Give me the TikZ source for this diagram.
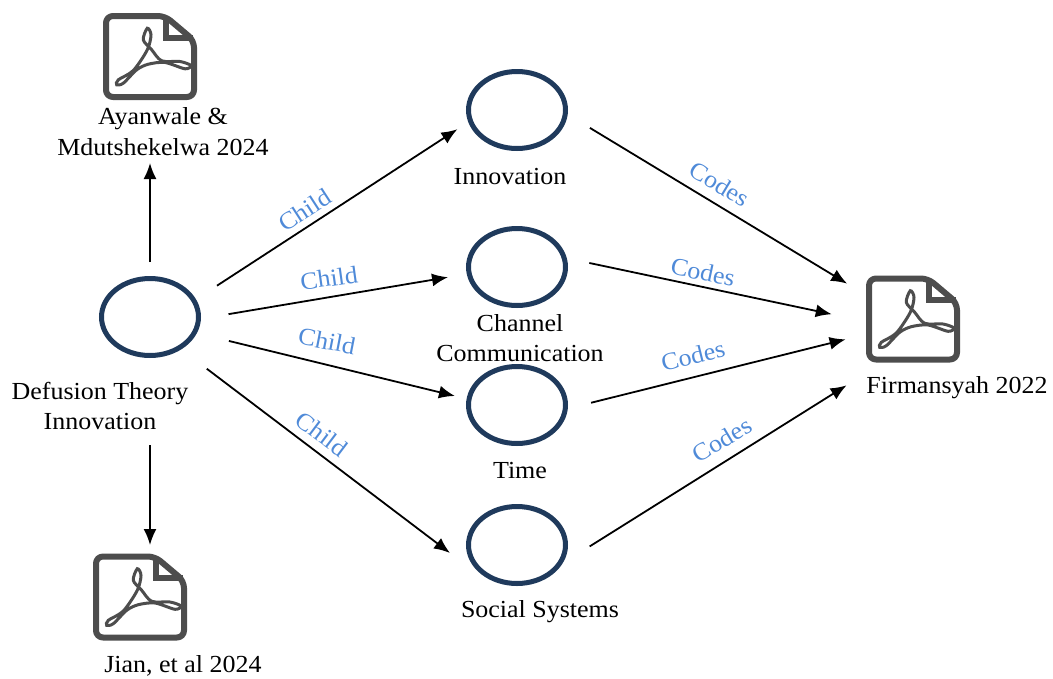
\documentclass[tikz,border=0pt]{standalone}
\usepackage{fontspec}
\setmainfont[FakeStretch=1.06]{Liberation Serif}
\usepackage{xcolor}
\usepackage{tikz}
\usetikzlibrary{arrows.meta, shapes.geometric}
\definecolor{themeblue}{HTML}{1F3A5C}
\definecolor{labelblue}{HTML}{4F8AD8}
\definecolor{docgray}{HTML}{4D4D4D}
\tikzset{
        x=1pt, y=-1pt, % same numbers as the pixels of the picture
        every node/.style={font=\fontsize{24.5}{30}\selectfont},
        pics/pdfdoc/.style={code={
            \draw[docgray, line width=6pt, line join=round, rounded corners=7pt]
                (-44,-40.5) -- (15,-40.5) -- (44,-16) -- (44,40.5) -- (-44,40.5) -- cycle;
            \draw[docgray, line width=6pt, line join=miter] (16,-39) -- (16,-19) -- (43,-19);
            \draw[docgray, line width=3pt] plot[smooth cycle] coordinates {
                (-2.7,-28.3) (1,-21.7) (-2.7,-6.7) (-16.7,14) (-31.7,23.3) (-33.3,28.3)
                (-26.7,26.7) (-13.3,13.3) (-1.7,7.7) (15,6) (35,12.3) (41,9)
                (30,5) (11.7,4.3) (1.7,-6.7) (-6.7,-16.7)};
        }},
    }
\tikzstyle{theme}=[draw=themeblue,ellipse,line width=5pt,minimum width=97pt,minimum height=77pt,inner sep=0pt]
\tikzstyle{docbox}=[rectangle,minimum width=94pt,minimum height=88pt,inner sep=0pt,outer sep=0pt]
\tikzstyle{caption}=[align=center,inner sep=0pt]
\tikzstyle{link}=[line width=1.8pt,-{Latex[length=16pt,width=13pt]}]
\tikzstyle{relation}=[text=labelblue,inner sep=0pt]

\begin{document}
\begin{tikzpicture}
    \useasboundingbox (0,0) rectangle (1053,678);

    % themes
    \node[theme] (defusion) at (150,317) {};
    \node[theme] (innovation) at (517,110) {};
    \node[theme] (channel) at (517,267) {};
    \node[theme] (time) at (517,405) {};
    \node[theme] (social) at (517,545) {};

    % documents
    \node[docbox] (ayanwale) at (150,56.5) {};
    \node[docbox] (jian) at (140,597) {};
    \node[docbox] (firmansyah) at (913,319) {};
    \pic at (ayanwale) {pdfdoc};
    \pic at (jian) {pdfdoc};
    \pic at (firmansyah) {pdfdoc};

    % captions
    \node[caption] (ayanwaletext) at (163,132) {Ayanwale \&\\[1pt]Mdutshekelwa 2024};
    \node[caption] (defusiontext) at (100,406) {Defusion Theory\\Innovation};
    \node[caption] (jiantext) at (183,666) {Jian, et al 2024};
    \node[caption] (innovationtext) at (510,177) {Innovation};
    \node[caption] (channeltext) at (520,338) {Channel\\Communication};
    \node[caption] (timetext) at (520,471) {Time};
    \node[caption] (socialtext) at (540,612) {Social Systems};
    \node[caption] (firmansyahtext) at (957,388) {Firmansyah 2022};

    % free arrow ends
    \coordinate (ayanwaletip) at (150,163);
    \coordinate (jiantip) at (150,545);
    \coordinate (socialtip) at (450,553);

    % arrows
    \draw[link, shorten <=14pt] (defusion.north) -- (ayanwaletip);
    \draw[link, shorten <=87pt] (defusion.south) -- (jiantip);
    \draw[link, shorten <=25pt, shorten >=13pt] (defusion.21) -- (innovation.194);
    \draw[link, shorten <=28pt, shorten >=19pt] (defusion.358) -- (channel.188);
    \draw[link, shorten <=33pt, shorten >=12pt] (defusion.341) -- (time.173);
    \draw[link, shorten <=32pt] (defusion.314) -- (socialtip);
    \draw[link, shorten <=26pt, shorten >=22pt] (innovation.355) -- (firmansyah.153);
    \draw[link, shorten <=23pt, shorten >=35pt] (channel.10) -- (firmansyah.183);
    \draw[link, shorten <=24pt, shorten >=21pt] (time.356) -- (firmansyah.198);
    \draw[link, shorten <=32pt, shorten >=42pt] (social.338) -- (firmansyah.235);

    % relation labels
    \node[relation, rotate=33] (child1) at (305,210) {Child};
    \node[relation, rotate=8] (child2) at (329,278) {Child};
    \node[relation, rotate=-11] (child3) at (327,341) {Child};
    \node[relation, rotate=-37] (child4) at (322,434) {Child};
    \node[relation, rotate=-31] (codes1) at (720,184) {Codes};
    \node[relation, rotate=-12] (codes2) at (703,272) {Codes};
    \node[relation, rotate=14] (codes3) at (693,356) {Codes};
    \node[relation, rotate=31] (codes4) at (722,440) {Codes};
\end{tikzpicture}
\end{document}
